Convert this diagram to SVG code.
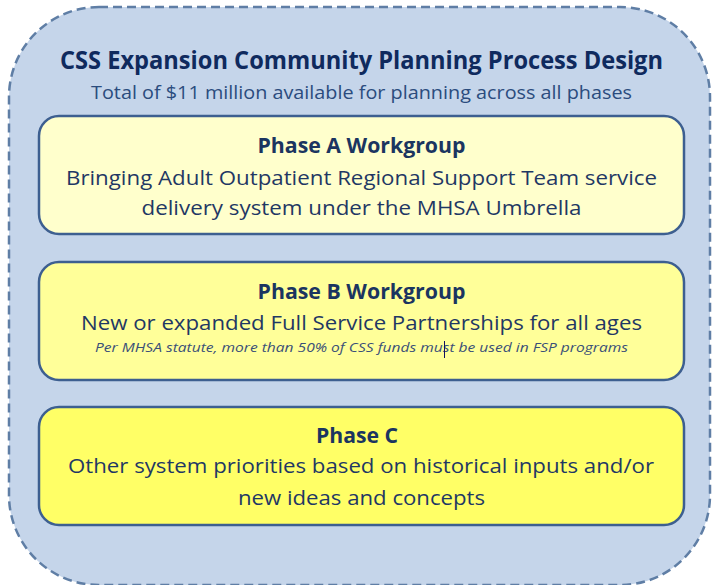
<svg xmlns="http://www.w3.org/2000/svg" width="712" height="585" viewBox="0 0 712 585">
  <style>
    .frame { fill: #c5d5ea; stroke: #5f7ea5; stroke-width: 2.5; stroke-dasharray: 9 5; }
    .box { stroke: #3d5f90; stroke-width: 2.5; }
    text { font-family: "Open Sans", "Noto Sans", "Liberation Sans", sans-serif; text-anchor: middle; }
    .title { font-size: 25px; font-weight: bold; fill: #0f2a5e; }
    .sub { font-size: 18px; fill: #2b4c7e; }
    .head { font-size: 20.5px; font-weight: bold; fill: #1b3560; }
    .body { font-size: 19.5px; fill: #1f3864; }
    .note { font-size: 13.5px; font-style: italic; fill: #3a4f78; }
  </style>

  <!-- outer dashed container -->
  <rect class="frame" x="9" y="7" width="701" height="578" rx="90" ry="90"/>

  <g id="header">
    <text class="title" x="361.5" y="69" textLength="603" lengthAdjust="spacingAndGlyphs">CSS Expansion Community Planning Process Design</text>
    <text class="sub" x="361.5" y="99" textLength="541" lengthAdjust="spacingAndGlyphs">Total of $11 million available for planning across all phases</text>
  </g>

  <g id="phase-a">
    <rect class="box" x="39" y="116" width="645" height="118" rx="20" ry="20" fill="#ffffcc"/>
    <text class="head" x="361.5" y="153" textLength="208" lengthAdjust="spacingAndGlyphs">Phase A Workgroup</text>
    <text class="body" x="361.5" y="185" textLength="591" lengthAdjust="spacingAndGlyphs">Bringing Adult Outpatient Regional Support Team service</text>
    <text class="body" x="361.5" y="215" textLength="440" lengthAdjust="spacingAndGlyphs">delivery system under the MHSA Umbrella</text>
  </g>

  <g id="phase-b">
    <rect class="box" x="39" y="262" width="645" height="118" rx="20" ry="20" fill="#ffff99"/>
    <text class="head" x="361.5" y="299" textLength="208" lengthAdjust="spacingAndGlyphs">Phase B Workgroup</text>
    <text class="body" x="361.5" y="330" textLength="561" lengthAdjust="spacingAndGlyphs">New or expanded Full Service Partnerships for all ages</text>
    <text class="note" x="361.5" y="352" textLength="533" lengthAdjust="spacingAndGlyphs">Per MHSA statute, more than 50% of CSS funds must be used in FSP programs</text>
    <!-- text caret -->
    <line x1="444.5" y1="341" x2="444.5" y2="358" stroke="#101060" stroke-width="1"/>
  </g>

  <g id="phase-c">
    <rect class="box" x="39" y="407" width="645" height="118" rx="20" ry="20" fill="#ffff66"/>
    <text class="head" x="357" y="443" textLength="82" lengthAdjust="spacingAndGlyphs">Phase C</text>
    <text class="body" x="361" y="473" textLength="586" lengthAdjust="spacingAndGlyphs">Other system priorities based on historical inputs and/or</text>
    <text class="body" x="361.5" y="505" textLength="247" lengthAdjust="spacingAndGlyphs">new ideas and concepts</text>
  </g>

  <g id="connectors"/>
</svg>
